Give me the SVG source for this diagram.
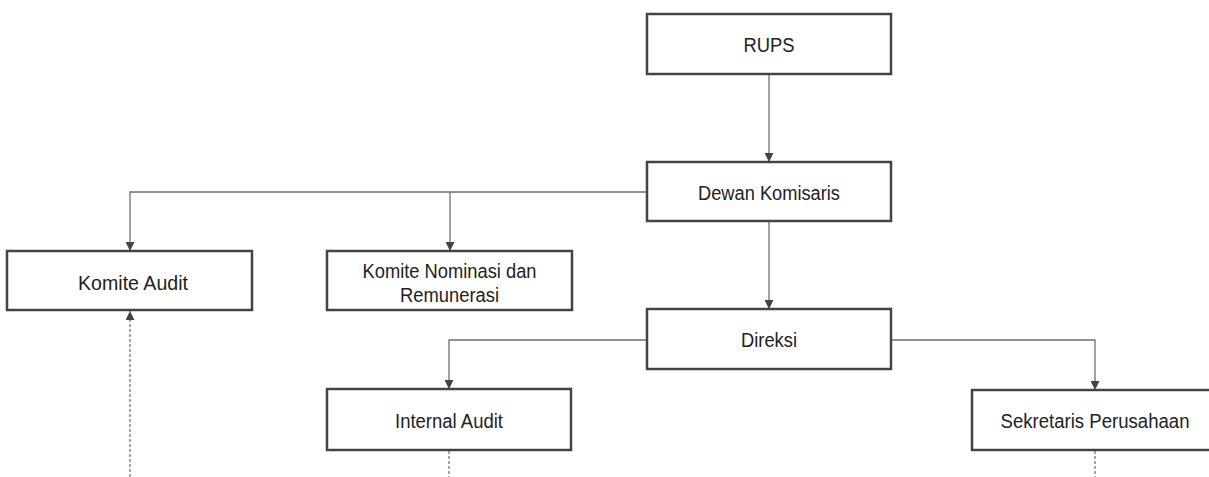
<svg xmlns="http://www.w3.org/2000/svg" width="1209" height="477" viewBox="0 0 1209 477">
<style>
.box{fill:#fff;stroke:#444;stroke-width:2.5}
.lbl{font-family:"Liberation Sans",Arial,sans-serif;font-size:20px;fill:#222;text-anchor:middle}
.con{fill:none;stroke:#707070;stroke-width:1.3}
.dash{fill:none;stroke:#8a8a8a;stroke-width:1.5;stroke-dasharray:3,2}
</style>
<defs>
<marker id="arr" viewBox="0 0 10 10" refX="10" refY="5" markerWidth="9" markerHeight="9" markerUnits="userSpaceOnUse" orient="auto">
<path d="M0,0 L10,5 L0,10 Z" fill="#444"/>
</marker>
</defs>
<rect width="1209" height="477" fill="#fff"/>
<g id="connectors">
<path class="con" d="M769,74 V162" marker-end="url(#arr)"/>
<path class="con" d="M647,192 H130 V251" marker-end="url(#arr)"/>
<path class="con" d="M450,192 V251" marker-end="url(#arr)"/>
<path class="con" d="M769,221 V309" marker-end="url(#arr)"/>
<path class="con" d="M647,340 H449 V389" marker-end="url(#arr)"/>
<path class="con" d="M891,340 H1095 V390" marker-end="url(#arr)"/>
<path class="dash" d="M130,477 V311" marker-end="url(#arr)"/>
<path class="dash" d="M449,451 V477"/>
<path class="dash" d="M1095,451 V477"/>
</g>
<g id="rups"><rect class="box" x="647" y="14" width="244" height="60"/><text class="lbl" x="769" y="52" textLength="51" lengthAdjust="spacingAndGlyphs">RUPS</text></g>
<g id="dewan-komisaris"><rect class="box" x="647" y="162" width="244" height="59"/><text class="lbl" x="769" y="200" textLength="142" lengthAdjust="spacingAndGlyphs">Dewan Komisaris</text></g>
<g id="komite-audit"><rect class="box" x="7" y="251" width="245" height="59"/><text class="lbl" x="133" y="290" textLength="110" lengthAdjust="spacingAndGlyphs">Komite Audit</text></g>
<g id="komite-nominasi"><rect class="box" x="327" y="251" width="245" height="59"/><text class="lbl" x="449.5" y="278" textLength="174" lengthAdjust="spacingAndGlyphs">Komite Nominasi dan</text><text class="lbl" x="449.5" y="302" textLength="99" lengthAdjust="spacingAndGlyphs">Remunerasi</text></g>
<g id="direksi"><rect class="box" x="647" y="309" width="244" height="60"/><text class="lbl" x="769" y="347" textLength="56" lengthAdjust="spacingAndGlyphs">Direksi</text></g>
<g id="internal-audit"><rect class="box" x="327" y="389" width="244" height="61"/><text class="lbl" x="449" y="428" textLength="108" lengthAdjust="spacingAndGlyphs">Internal Audit</text></g>
<g id="sekretaris-perusahaan"><rect class="box" x="972" y="390" width="246" height="60"/><text class="lbl" x="1095" y="428" textLength="189" lengthAdjust="spacingAndGlyphs">Sekretaris Perusahaan</text></g>
</svg>
